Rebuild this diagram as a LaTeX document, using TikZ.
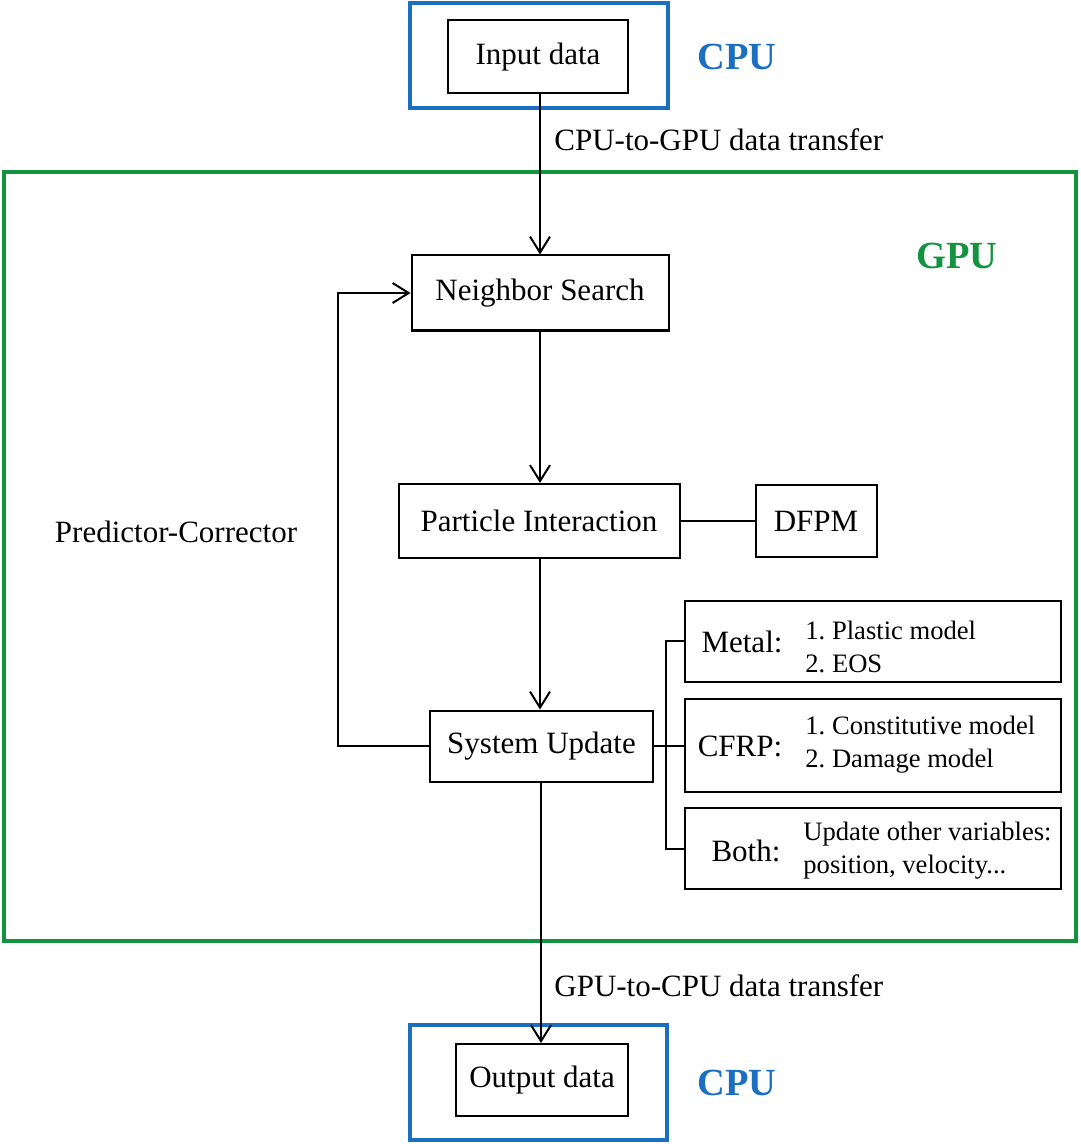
\documentclass[tikz,border=0pt]{standalone}
\usepackage{fontspec}
\setmainfont{Liberation Serif}
\usetikzlibrary{arrows.meta,positioning}
\definecolor{CpuBlue}{HTML}{1A6FC1}
\definecolor{GpuGreen}{HTML}{13923F}
\frenchspacing

\begin{document}
\begin{tikzpicture}[x=0.5pt,y=-0.5pt,>={Straight Barb[length=8pt,width=10pt]}]
    \tikzset{
      block/.style={draw,line width=1pt,font=\fontsize{15.5}{18}\selectfont,
        inner sep=0pt,align=center},
      subbox/.style={draw,line width=1pt,minimum width=188pt,minimum height=40.5pt,inner sep=0pt},
      region/.style={line width=2.2pt},
      unit/.style={font=\fontsize{19.2}{22}\selectfont\bfseries},
      plain/.style={font=\fontsize{15.5}{18}\selectfont,inner sep=0pt},
      item/.style={font=\fontsize{13.3}{16.5}\selectfont,align=left,anchor=west,inner sep=0pt},
      link/.style={line width=1pt}
    }
    \useasboundingbox (0,0) rectangle (1080,1144);
    % CPU / GPU regions
    \draw[region,draw=CpuBlue] (410,3) rectangle (668,108);
    \draw[region,draw=GpuGreen] (4,172) rectangle (1076,941);
    \draw[region,draw=CpuBlue] (410,1025) rectangle (667,1140);
    \node[unit,text=CpuBlue] (cpuin) at (737,57) {CPU};
    \node[unit,text=GpuGreen] (gpu) at (957,256) {GPU};
    \node[unit,text=CpuBlue] (cpuout) at (737,1083) {CPU};
    % main flow
    \node[block,minimum width=90pt,minimum height=36.5pt] (input) at (538,57) {Input data};
    \node[block,minimum width=128.5pt,minimum height=37.5pt] (search) at (540,293) {Neighbor Search};
    \node[block,minimum width=140.5pt,minimum height=37pt] (interact) at (539,521) {Particle Interaction};
    \node[block,minimum width=60.5pt,minimum height=36pt] (dfpm) at (816,521) {DFPM};
    \node[block,minimum width=111.5pt,minimum height=35.5pt] (update) at (541.5,746) {System Update};
    \node[block,minimum width=86pt,minimum height=36pt] (output) at (542,1080) {Output data};
    \draw[->,link] (input.south -| 540,0) -- (search.north -| 540,0);
    \draw[->,link] (search.south -| 540,0) -- (interact.north -| 540,0);
    \draw[->,link] (interact.south -| 540,0) -- (update.north -| 540,0);
    \draw[->,link] (update.south -| 541,0) -- (output.north -| 541,0);
    \draw[link] (interact.east) -- (interact.east -| dfpm.west);
    \node[plain,anchor=west] (up) at (554,140) {CPU-to-GPU data transfer};
    \node[plain,anchor=west] (down) at (554,986) {GPU-to-CPU data transfer};
    % predictor-corrector loop
    \coordinate (loop) at (338,0);
    \draw[->,link] (update.west) -| (loop |- search.west) -- (search.west);
    \node[plain] (pc) at (176,532) {Predictor-Corrector};
    % material models
    \node[subbox] (metal) at (873,641) {};
    \node[subbox,minimum height=46.5pt] (cfrp) at (873,745) {};
    \node[subbox] (both) at (873,848.5) {};
    \node[plain] (metalkey) at (742,642) {Metal:};
    \node[item] (metallist) at (805,647) {1. Plastic model\\2. EOS};
    \node[plain] (cfrpkey) at (740,746) {CFRP:};
    \node[item] (cfrplist) at (805,745) {1. Constitutive model\\2. Damage model};
    \node[plain] (bothkey) at (746,851) {Both:};
    \node[item] (bothlist) at (803,851) {Update other variables:\\position, velocity...};
    \coordinate (fork) at (666,0);
    \draw[link] (update.east) -- (update.east -| cfrp.west);
    \draw[link] (metal.west) -| (fork |- both.west) -- (both.west);
\end{tikzpicture}
\end{document}
